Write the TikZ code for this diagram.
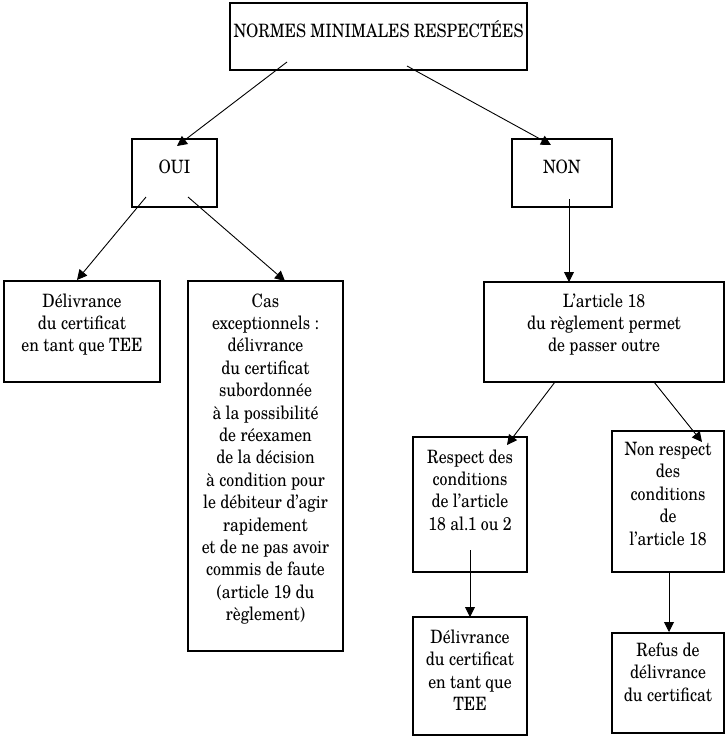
\documentclass[tikz,border=0pt]{standalone}
\usepackage{fontspec}
\setmainfont[FakeStretch=0.86]{TeX Gyre Schola}
\usetikzlibrary{arrows.meta,calc}
\tikzset{
  bx/.style n args={3}{draw, line width=1.2pt, inner sep=0pt, outer sep=0pt, anchor=north west,
    execute at begin node={\begin{minipage}[t][#2][t]{#1}\fontsize{18.4pt}{22.4pt}\selectfont\centering\vspace*{\dimexpr#3-18pt\relax}\rule{0pt}{18pt}},
    execute at end node={\end{minipage}}},
  arr/.style={line width=0.9pt, -{Triangle[length=10pt,width=10pt]}}
}
\begin{document}
\begin{tikzpicture}[x=1pt,y=-1pt]
\useasboundingbox (0,0) rectangle (725,736);
\node[bx={297pt}{67pt}{35pt}] (top) at (230,3) {NORMES MINIMALES RESPECTÉES};
\node[bx={85pt}{68pt}{34pt}] (oui) at (132,139) {OUI};
\node[bx={100pt}{68pt}{34pt}] (non) at (512,139) {NON};
\node[bx={156pt}{101pt}{26pt}] (del1) at (4,281) {Délivrance\\du certificat\\en tant que TEE};
\node[bx={155pt}{370pt}{26pt}] (cas) at (188,281) {Cas\\exceptionnels :\\délivrance\\du certificat\\subordonnée\\à la possibilité\\de réexamen\\de la décision\\à condition pour\\le débiteur d’agir\\rapidement\\et de ne pas avoir\\commis de faute\\(article 19 du\\règlement)};
\node[bx={240pt}{100pt}{25pt}] (art) at (484,282) {L’article 18\\du règlement permet\\de passer outre};
\node[bx={114pt}{135pt}{26pt}] (resp) at (413,437) {Respect des\\conditions\\de l’article\\18 al.1 ou 2};
\node[bx={112pt}{141pt}{24.5pt}] (nonr) at (612,431) {Non respect\\des\\conditions\\de\\l’article 18};
\node[bx={114pt}{118pt}{26.5pt}] (del2) at (413,617) {Délivrance\\du certificat\\en tant que\\TEE};
\node[bx={112pt}{100pt}{23.5pt}] (refus) at (612,633) {Refus de\\délivrance\\du certificat};

\draw[arr] ($(top.north west)+(57,59)$) -- ($(oui.north west)+(45,7)$);
\draw[arr] ($(top.north west)+(177,63)$) -- ($(non.north west)+(39,6)$);
\draw[arr] ($(oui.north west)+(14,58)$) -- ($(del1.north west)+(73,-1)$);
\draw[arr] ($(oui.north west)+(56,58)$) -- ($(cas.north west)+(97,0)$);
\draw[arr] ($(non.north west)+(57,60)$) -- ($(art.north west)+(85,0)$);
\draw[arr] ($(art.north west)+(71,100)$) -- ($(resp.north west)+(94,8)$);
\draw[arr] ($(art.north west)+(170,100)$) -- ($(nonr.north west)+(90,11)$);
\draw[arr] ($(resp.north west)+(57,113)$) -- ($(del2.north west)+(57,0)$);
\draw[arr] ($(nonr.north west)+(57,141)$) -- ($(refus.north west)+(57,-1)$);
\end{tikzpicture}
\end{document}
